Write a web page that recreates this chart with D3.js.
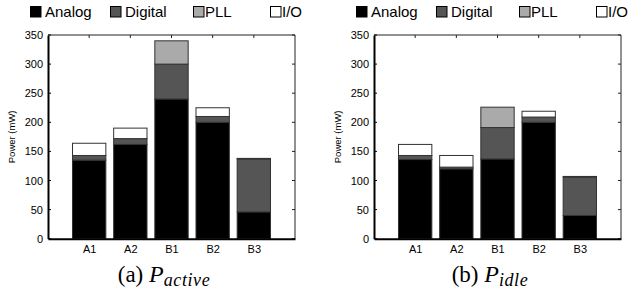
<!DOCTYPE html>
<html><head><meta charset="utf-8">
<script src="https://cdn.jsdelivr.net/npm/d3@7"></script>
<style>body{margin:0;background:#fff}svg{display:block}</style>
</head><body>
<svg id="c" width="630" height="295"></svg>
<script>
const categories = ["A1","A2","B1","B2","B3"];
const seriesNames = ["Analog","Digital","PLL","I/O"];
const yTicks = [0,50,100,150,200,250,300,350];

const activeAnalog  = [135,162,240,200,46];
const activeDigital = [8,10,60,10,91];
const activePLL     = [0,0,40,0,0];
const activeIO      = [21,18,0,15,1];

const idleAnalog  = [136,120,137,200,40];
const idleDigital = [7,3,54,9,66];
const idlePLL     = [0,0,35,0,0];
const idleIO      = [19,20,0,10,1];

const colors = ["#000000","#555555","#aaaaaa","#ffffff"];
const SANS = "'Liberation Sans', Arial, Helvetica, sans-serif";
const SERIF = "'Liberation Serif', 'Times New Roman', serif";
const svg = d3.select("#c");

function panel(ox, cap, sub, arrs){
  const top = 35, bottom = 238.7, w = 247;
  const h = bottom - top;
  const g = svg.append("g").attr("transform",`translate(${ox},${top})`);
  const x = d3.scaleLinear().domain([0,6]).range([0,w]);
  const y = d3.scaleLinear().domain([0,350]).range([h,0]);
  const rows = categories.map((c,i)=>{const o={cat:c,idx:i+1}; seriesNames.forEach((s,k)=>o[s]=arrs[k][i]); return o;});
  const stack = d3.stack().keys(seriesNames)(rows);
  const bw = (x(1)-x(0))*0.81;
  stack.forEach((layer,k)=>{
    g.selectAll(null).data(layer.filter(d=>d[1]-d[0]>0)).join("rect")
      .attr("x",d=>x(d.data.idx)-bw/2).attr("width",bw)
      .attr("y",d=>y(d[1])).attr("height",d=>y(d[0])-y(d[1]))
      .attr("fill",colors[k]).attr("stroke","#333").attr("stroke-width",1);
  });
  g.append("line").attr("x1",0).attr("x2",w).attr("y1",0).attr("y2",0).attr("stroke","#222").attr("stroke-width",1);
  g.append("line").attr("x1",w).attr("x2",w).attr("y1",0).attr("y2",h).attr("stroke","#222").attr("stroke-width",1);
  const tl = 3;
  yTicks.forEach(t=>{
    g.append("line").attr("x1",w).attr("x2",w-tl).attr("y1",y(t)).attr("y2",y(t)).attr("stroke","#222");
    g.append("line").attr("x1",0).attr("x2",tl).attr("y1",y(t)).attr("y2",y(t)).attr("stroke","#000");
  });
  categories.forEach((c,i)=>{
    g.append("line").attr("x1",x(i+1)).attr("x2",x(i+1)).attr("y1",0).attr("y2",tl).attr("stroke","#222");
  });
  const ya = g.append("g").call(d3.axisLeft(y).tickValues(yTicks).tickSize(0).tickPadding(5));
  ya.select(".domain").attr("stroke","#000").attr("stroke-width",2);
  ya.selectAll("text").attr("font-family",SANS).attr("font-size","11px").attr("fill","#000");
  const xa = g.append("g").attr("transform",`translate(0,${h})`)
    .call(d3.axisBottom(x).tickValues([1,2,3,4,5]).tickFormat(d=>categories[d-1]).tickSize(0).tickPadding(7));
  xa.select(".domain").attr("stroke","#000").attr("stroke-width",2);
  xa.selectAll("text").attr("font-family",SANS).attr("font-size","11px").attr("fill","#000");
  g.append("text").attr("transform",`translate(-33,${h/2}) rotate(-90)`).attr("text-anchor","middle")
    .attr("font-family",SANS).attr("font-size","9.5px").text("Power (mW)");
  const lx = [-18,62,145,222];
  const tx = [-3,77,157,234];
  seriesNames.forEach((s,k)=>{
    svg.append("rect").attr("x",ox+lx[k]+0.5).attr("y",6.5).attr("width",10.5).attr("height",10.5)
      .attr("fill",colors[k]).attr("stroke","#000").attr("stroke-width",1);
    svg.append("text").attr("x",ox+tx[k]).attr("y",17).attr("font-family",SANS)
      .attr("font-size","15px").text(s);
  });
  const t = svg.append("text").attr("x",ox+w/2-7.5).attr("y",282).attr("text-anchor","middle")
    .attr("font-family",SERIF).attr("font-size","23px");
  t.append("tspan").text(cap+" ");
  t.append("tspan").attr("font-style","italic").attr("font-size","24px").text("P");
  t.append("tspan").attr("font-style","italic").attr("font-size","18px").attr("dy",4).attr("letter-spacing","0.6px").text(sub);
}
panel(48,"(a)","active",[activeAnalog,activeDigital,activePLL,activeIO]);
panel(374,"(b)","idle",[idleAnalog,idleDigital,idlePLL,idleIO]);
</script>
</body></html>
